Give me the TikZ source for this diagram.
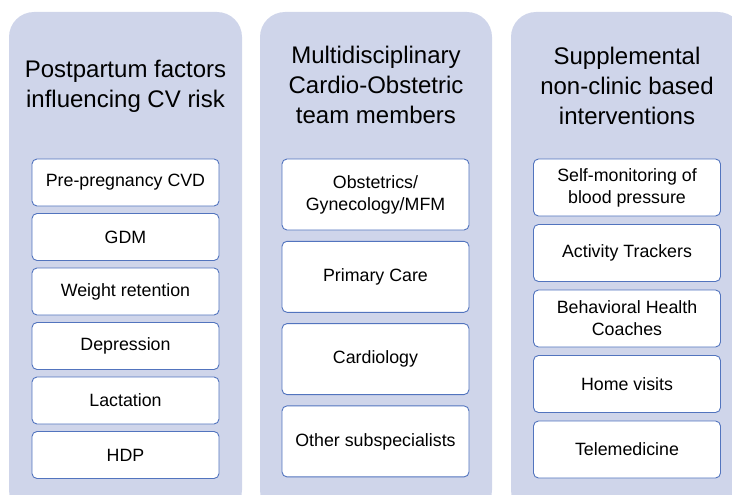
\documentclass[tikz,border=0pt]{standalone}
\usepackage{fontspec}
\setmainfont{Liberation Sans}
\definecolor{panelfill}{RGB}{207,213,234}
\definecolor{boxline}{RGB}{82,116,190}
\tikzset{
  panel/.style={fill=panelfill, rounded corners=25pt},
  title/.style={align=center, font=\fontsize{24}{30}\selectfont},
  item/.style={draw=boxline, fill=white, line width=0.9pt, rounded corners=5pt,
    align=center, minimum width=187pt, font=\fontsize{17.8}{22}\selectfont},
}
\begin{document}
\begin{tikzpicture}[x=1pt,y=-1pt]
\clip (0,0) rectangle (732,495);

\path[panel] (9,12) rectangle (242,515);
\path[panel] (260,12) rectangle (492,515);
\path[panel] (511,12) rectangle (743,515);

\node[title] (t1) at (125.5,86) {Postpartum factors\\influencing CV risk};
\node[title] (t2) at (376,85) {Multidisciplinary\\Cardio-Obstetric\\team members};
\node[title] (t3) at (627,86) {Supplemental\\non-clinic based\\interventions};

\node[item, minimum height=47pt] (f1) at (125.5,182.5) {Pre-pregnancy CVD};
\node[item, minimum height=47pt] (f2) at (125.5,237) {GDM};
\node[item, minimum height=47pt] (f3) at (125.5,291.5) {Weight retention};
\node[item, minimum height=47pt] (f4) at (125.5,346) {Depression};
\node[item, minimum height=47pt] (f5) at (125.5,400.5) {Lactation};
\node[item, minimum height=47pt] (f6) at (125.5,455) {HDP};

\node[item, minimum height=71pt] (m1) at (375.5,194.5) {Obstetrics/\\Gynecology/MFM};
\node[item, minimum height=71pt] (m2) at (375.5,276.8) {Primary Care};
\node[item, minimum height=71pt] (m3) at (375.5,359.1) {Cardiology};
\node[item, minimum height=71pt] (m4) at (375.5,441.4) {Other subspecialists};

\node[item, minimum height=57pt] (s1) at (627,187.5) {Self-monitoring of\\blood pressure};
\node[item, minimum height=57pt] (s2) at (627,253) {Activity Trackers};
\node[item, minimum height=57pt] (s3) at (627,318.5) {Behavioral Health\\Coaches};
\node[item, minimum height=57pt] (s4) at (627,384) {Home visits};
\node[item, minimum height=57pt] (s5) at (627,449.5) {Telemedicine};
\end{tikzpicture}
\end{document}
